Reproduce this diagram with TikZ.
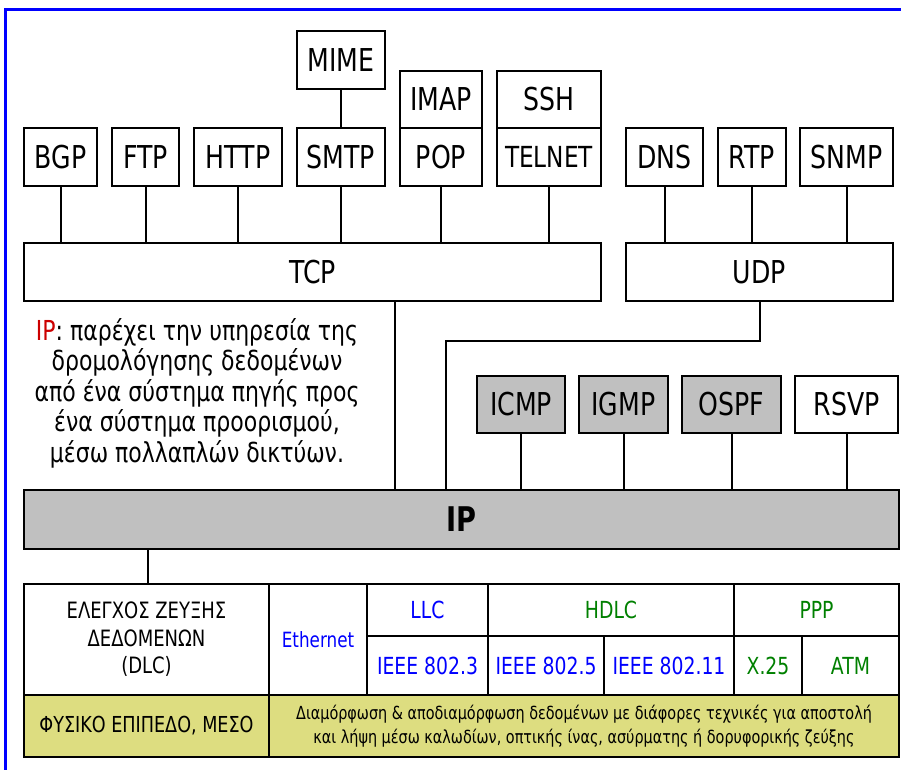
\documentclass[tikz,border=0pt]{standalone}
\usepackage{fontspec}
\setmainfont{DejaVu Sans}[FakeStretch=0.8]
\usetikzlibrary{calc}
\definecolor{ipgray}{RGB}{192,192,192}
\definecolor{physyellow}{RGB}{221,221,128}
\definecolor{txtblue}{RGB}{0,0,255}
\definecolor{txtgreen}{RGB}{0,128,0}
\definecolor{ipred}{RGB}{204,0,0}
\definecolor{frameblue}{RGB}{0,0,255}
\tikzset{
  wh/.style 2 args={minimum width=#1pt, minimum height=#2pt},
  box/.style={draw=black, line width=2pt, inner sep=0pt, font=\fontsize{31.5}{36}\selectfont},
  grayfill/.style={fill=ipgray},
  cell/.style={draw=black, line width=2pt, inner sep=0pt, font=\fontsize{23.5}{28}\selectfont},
  bluetext/.style={text=txtblue},
  greentext/.style={text=txtgreen},
  phys/.style={fill=physyellow},
  link/.style={line width=2pt}
}
\begin{document}
\begin{tikzpicture}[x=1pt,y=-1pt]
\useasboundingbox (0,0) rectangle (901,770);
% frame
\fill[frameblue] (3.5,8) rectangle (901,11.5);
\fill[frameblue] (3.5,8) rectangle (7,770);
% application layer
\node[box, wh={88}{58}] (mime) at (341,60) {MIME};
\node[box, wh={73}{58}] (bgp) at (60.5,157) {BGP};
\node[box, wh={67}{58}] (ftp) at (145.5,157) {FTP};
\node[box, wh={88}{58}] (http) at (238,157) {HTTP};
\node[box, wh={88}{58}] (smtp) at (341,157) {SMTP};
\node[box, wh={82}{57}] (imap) at (441,99.5) {IMAP};
\node[box, wh={82}{58}] (pop) at (441,157) {POP};
\node[box, wh={104}{57}] (ssh) at (549,99.5) {SSH};
\node[box, wh={104}{58}, font=\fontsize{29}{34}\selectfont] (telnet) at (549,157) {TELNET};
\node[box, wh={77}{58}] (dns) at (664.5,157) {DNS};
\node[box, wh={68}{58}] (rtp) at (752,157) {RTP};
\node[box, wh={93}{58}] (snmp) at (846.5,157) {SNMP};
% transport
\node[box, wh={577}{58}] (tcp) at (312.5,272) {TCP};
\node[box, wh={267}{58}] (udp) at (759.5,272) {UDP};
% network helpers
\node[box, grayfill, wh={88}{57}] (icmp) at (521,404.5) {ICMP};
\node[box, grayfill, wh={89}{57}] (igmp) at (623.5,404.5) {IGMP};
\node[box, grayfill, wh={99}{57}] (ospf) at (731.5,404.5) {OSPF};
\node[box, wh={103}{57}] (rsvp) at (846.5,404.5) {RSVP};
\node[box, grayfill, wh={875}{59}, font=\bfseries\fontsize{34}{40}\selectfont] (ip) at (461.5,519.5) {IP};
% description
\node[align=center, inner sep=0pt, font=\fontsize{27.5}{30.5}\selectfont] (iptext) at (197,393)
  {\textcolor{ipred}{IP}: παρέχει την υπηρεσία της\\δρομολόγησης δεδομένων\\από ένα σύστημα πηγής προς\\ένα σύστημα προορισμού,\\μέσω πολλαπλών δικτύων.};
% data link table
\node[cell, wh={245}{111}, align=center, font=\fontsize{22.5}{27.5}\selectfont] (dlc) at (146.5,639.5) {ΕΛΕΓΧΟΣ ΖΕΥΞΗΣ\\ΔΕΔΟΜΕΝΩΝ\\(DLC)};
\node[cell, bluetext, wh={98}{111}, font=\fontsize{21}{24}\selectfont] (eth) at (318,639.5) {Ethernet};
\node[cell, bluetext, wh={121}{52}] (llc) at (427.5,610) {LLC};
\node[cell, bluetext, wh={121}{59}] (ieee3) at (427.5,665.5) {IEEE 802.3};
\node[cell, greentext, wh={246}{52}] (hdlc) at (611,610) {HDLC};
\node[cell, bluetext, wh={116}{59}] (ieee5) at (546,665.5) {IEEE 802.5};
\node[cell, bluetext, wh={130}{59}] (ieee11) at (669,665.5) {IEEE 802.11};
\node[cell, greentext, wh={165}{52}] (ppp) at (816.5,610) {PPP};
\node[cell, greentext, wh={68}{59}] (x25) at (768,665.5) {X.25};
\node[cell, greentext, wh={97}{59}] (atm) at (850.5,665.5) {ATM};
\node[cell, phys, wh={245}{62}, font=\fontsize{22}{25}\selectfont] (physl) at (146.5,726) {ΦΥΣΙΚΟ ΕΠΙΠΕΔΟ, ΜΕΣΟ};
\node[cell, phys, wh={630}{62}, align=center, font=\fontsize{18}{24}\selectfont] (physd) at (584,726)
  {Διαμόρφωση \& αποδιαμόρφωση δεδομένων με διάφορες τεχνικές για αποστολή\\και λήψη μέσω καλωδίων, οπτικής ίνας, ασύρματης ή δορυφορικής ζεύξης};
% connectors
\draw[link] (mime) -- (smtp);
\draw[link] (imap) -- (pop);
\draw[link] (ssh) -- (telnet);
\foreach \n in {bgp,ftp,http,smtp,pop,telnet} \draw[link] (\n.south) -- (\n.south |- tcp.north);
\foreach \n in {dns,rtp,snmp} \draw[link] (\n.south) -- (\n.south |- udp.north);
\coordinate (tcpx) at (395,0);
\draw[link] (tcp.south -| tcpx) -- (ip.north -| tcpx);
\coordinate (udpbend) at (446,341);
\draw[link] (udp.south) |- (udpbend) -- (udpbend |- ip.north);
\foreach \n in {icmp,igmp,ospf,rsvp} \draw[link] (\n.south) -- (\n.south |- ip.north);
\coordinate (dlcx) at (148,0);
\draw[link] (ip.south -| dlcx) -- (dlc.north -| dlcx);
\end{tikzpicture}
\end{document}
